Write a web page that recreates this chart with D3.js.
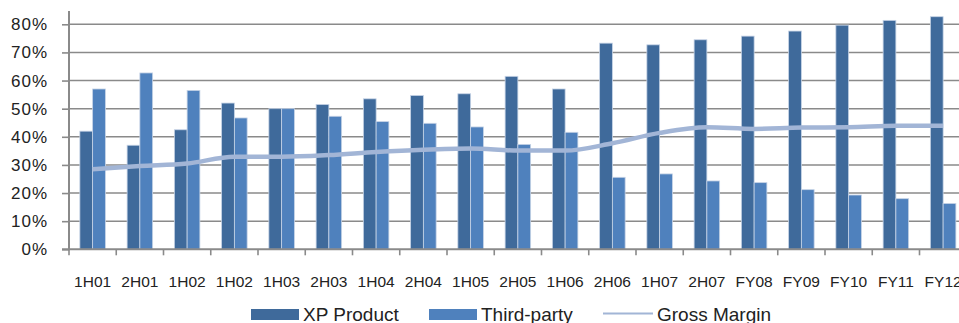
<!DOCTYPE html>
<html>
<head>
<meta charset="utf-8">
<script src="https://cdn.jsdelivr.net/npm/d3@7/dist/d3.min.js"></script>
<style>
  html, body { margin: 0; padding: 0; background: #fff; }
  svg { display: block; font-family: "Liberation Sans", Arial, sans-serif; }
</style>
</head>
<body>
<svg id="chart" width="959" height="323"></svg>
<script>
// Periods along the horizontal axis
const categories = ["1H01","2H01","1H02","1H02","1H03","2H03","1H04","2H04","1H05","2H05",
                    "1H06","2H06","1H07","2H07","FY08","FY09","FY10","FY11","FY12"];
// Revenue mix shares (%)
const xpProduct  = [42, 37, 42.5, 52, 50, 51.5, 53.5, 54.7, 55.3, 61.5, 57, 73.3, 72.7, 74.5, 75.8, 77.6, 79.7, 81.4, 82.7];
const thirdParty = [57, 62.7, 56.5, 46.7, 50, 47.3, 45.4, 44.8, 43.5, 37.3, 41.6, 25.6, 26.8, 24.3, 23.7, 21.2, 19.3, 18, 16.3];
// Gross margin (%)
const grossMargin = [28.5, 29.6, 30.5, 32.9, 32.9, 33.5, 34.6, 35.4, 35.8, 35.1, 35.1, 37.7, 41.4, 43.4, 42.8, 43.3, 43.4, 43.9, 43.9];
const yTicks = [0, 10, 20, 30, 40, 50, 60, 70, 80];
const seriesNames = ["XP Product", "Third-party", "Gross Margin"];

const colDark = "#3f6a9b", colLight = "#4f81bd", colLine = "#a2b5d6", colGrid = "#8a8a8a";

const svg = d3.select("#chart");
const plotLeft = 69, plotTop = 11, plotBottom = 249.3;
const step = 47.25;

const x = d3.scaleBand()
  .domain(d3.range(categories.length))
  .range([plotLeft, plotLeft + step * categories.length])
  .padding(0);
const y = d3.scaleLinear().domain([0, 80]).range([plotBottom, 24.3]);

const bw = x.bandwidth() * 0.27;

// horizontal gridlines
svg.append("g").selectAll("line").data(yTicks.filter(d => d > 0)).join("line")
  .attr("x1", plotLeft).attr("x2", 959)
  .attr("y1", d => y(d)).attr("y2", d => y(d))
  .attr("stroke", colGrid).attr("stroke-width", 1.6);

// y axis
const yAxis = svg.append("g").attr("transform", `translate(${plotLeft},0)`)
  .call(d3.axisLeft(y).tickValues(yTicks).tickSize(7).tickPadding(14).tickFormat(d => d + "%"));
yAxis.select(".domain").remove();
yAxis.selectAll(".tick line").attr("stroke", colGrid).attr("stroke-width", 1.6);
yAxis.selectAll(".tick text").attr("fill", "#222").attr("font-size", 17).attr("letter-spacing", 1)
  .attr("font-family", "Liberation Sans, Arial, sans-serif");
svg.append("line").attr("x1", plotLeft).attr("x2", plotLeft).attr("y1", plotTop).attr("y2", plotBottom + 1)
  .attr("stroke", colGrid).attr("stroke-width", 2);

// bars
const groups = svg.append("g").selectAll("g").data(categories).join("g")
  .attr("transform", (d, i) => `translate(${x(i) + x.bandwidth() / 2},0)`);
groups.append("rect")
  .attr("x", -bw).attr("width", bw)
  .attr("y", (d, i) => y(xpProduct[i])).attr("height", (d, i) => y(0) - y(xpProduct[i]))
  .attr("fill", colDark).attr("stroke", "#c6d3e6").attr("stroke-width", 0.8);
groups.append("rect")
  .attr("x", 0).attr("width", bw)
  .attr("y", (d, i) => y(thirdParty[i])).attr("height", (d, i) => y(0) - y(thirdParty[i]))
  .attr("fill", colLight).attr("stroke", "#c6d3e6").attr("stroke-width", 0.8);

// x axis
const xAxis = svg.append("g").attr("transform", `translate(0,${plotBottom})`);
xAxis.append("line").attr("x1", plotLeft - 7).attr("x2", 959).attr("y1", 0).attr("y2", 0)
  .attr("stroke", colGrid).attr("stroke-width", 2);
xAxis.selectAll(".tk").data(d3.range(categories.length + 1)).join("line").attr("class", "tk")
  .attr("x1", i => plotLeft + step * i).attr("x2", i => plotLeft + step * i)
  .attr("y1", 0).attr("y2", 6).attr("stroke", colGrid).attr("stroke-width", 1.6);
xAxis.selectAll("text").data(categories).join("text")
  .attr("x", (d, i) => x(i) + x.bandwidth() / 2).attr("y", 37.4)
  .attr("text-anchor", "middle").attr("font-size", 15.5).attr("fill", "#222")
  .text(d => d);

// gross margin line
const line = d3.line()
  .x((d, i) => x(i) + x.bandwidth() / 2)
  .y(d => y(d))
  .curve(d3.curveMonotoneX);
svg.append("path").datum(grossMargin).attr("d", line)
  .attr("fill", "none").attr("stroke", colLine).attr("stroke-width", 4.5);

// legend
const lg = svg.append("g").attr("font-size", 19).attr("fill", "#222");
lg.append("rect").attr("x", 251).attr("y", 309).attr("width", 48).attr("height", 11).attr("fill", colDark);
lg.append("text").attr("x", 303).attr("y", 321).text(seriesNames[0]);
lg.append("rect").attr("x", 429).attr("y", 309).attr("width", 48).attr("height", 11).attr("fill", colLight);
lg.append("text").attr("x", 481).attr("y", 321).text(seriesNames[1]);
lg.append("line").attr("x1", 603).attr("x2", 653).attr("y1", 313.5).attr("y2", 313.5)
  .attr("stroke", colLine).attr("stroke-width", 2);
lg.append("text").attr("x", 657).attr("y", 321).text(seriesNames[2]);
</script>
</body>
</html>
